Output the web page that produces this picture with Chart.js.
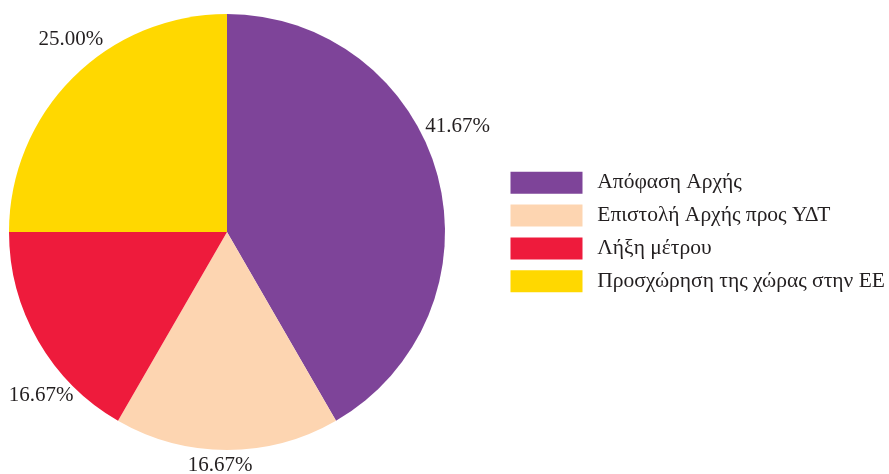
<!DOCTYPE html>
<html>
<head>
<meta charset="utf-8">
<script src="https://cdn.jsdelivr.net/npm/chart.js@4"></script>
<style>
  body { margin: 0; background: #fff; }
  #wrap { width: 889px; height: 474px; position: relative; }
</style>
</head>
<body>
<div id="wrap"><canvas id="pieChart"></canvas></div>
<script>
"use strict";

// data
var categories = ["Απόφαση Αρχής", "Επιστολή Αρχής προς ΥΔΤ", "Λήξη μέτρου", "Προσχώρηση της χώρας στην ΕΕ"];
var counts = [5, 2, 2, 3];
var sliceColors = ["#7E4499", "#FDD5B1", "#EE1B3C", "#FFD800"];

var serif = "'Liberation Serif', 'DejaVu Serif', serif";

// ------------------------------------------------------- //
// legend sits further right than Chart.js puts it
// ------------------------------------------------------ //
var legendSpacer = {
    id: "legendSpacer",
    beforeLayout: function (chart, args, opts) {
        var legend = chart.legend;
        if (legend && !legend._patched) {
            var origFit = legend.fit;
            legend.fit = function () {
                origFit.call(this);
                this.width = opts.width;
            };
            legend._patched = true;
        }
    },
    afterLayout: function (chart, args, opts) {
        chart.legend.left += opts.shift;
        chart.legend.right += opts.shift;
    }
};

// ------------------------------------------------------- //
// percentage labels outside the slices
// ------------------------------------------------------ //
var pctLabels = {
    id: "pctLabels",
    afterDatasetsDraw: function (chart, args, opts) {
        var ctx = chart.ctx;
        var meta = chart.getDatasetMeta(0);
        var total = counts.reduce(function (a, b) { return a + b; }, 0);
        ctx.save();
        ctx.font = opts.size + "px " + serif;
        ctx.fillStyle = opts.color;
        ctx.textAlign = "center";
        ctx.textBaseline = "middle";
        meta.data.forEach(function (arc, i) {
            var p = arc.getProps(["x", "y", "startAngle", "endAngle", "outerRadius"], true);
            var mid = (p.startAngle + p.endAngle) / 2;
            var nudge = opts.nudge[i];
            var px = p.x + Math.cos(mid) * p.outerRadius + nudge[0];
            var py = p.y + Math.sin(mid) * p.outerRadius + nudge[1];
            ctx.fillText((counts[i] / total * 100).toFixed(2) + "%", px, py);
        });
        ctx.restore();
    }
};

var PIECHART = document.getElementById("pieChart");
var myPieChart = new Chart(PIECHART, {
    type: "pie",
    data: {
        labels: categories,
        datasets: [
            {
                data: counts,
                backgroundColor: sliceColors,
                borderWidth: 0,
            },
        ],
    },
    options: {
        responsive: true,
        maintainAspectRatio: false,
        animation: false,
        layout: {
            padding: { left: 9, top: 14, bottom: 24, right: 0 },
        },
        plugins: {
            legend: {
                position: "right",
                labels: {
                    // white border trims the box to 72x22 and leaves a wider gap before the text
                    boxWidth: 80,
                    boxHeight: 30,
                    padding: 2.9,
                    color: "#231F20",
                    font: { family: serif, size: 21.5 },
                    generateLabels: function (chart) {
                        var items = Chart.overrides.pie.plugins.legend.labels.generateLabels(chart);
                        items.forEach(function (item) {
                            item.lineWidth = 8;
                            item.strokeStyle = "#fff";
                        });
                        return items;
                    },
                },
            },
            tooltip: { enabled: false },
            legendSpacer: { width: 444, shift: 58.6 },
            pctLabels: {
                size: 21,
                color: "#231F20",
                nudge: [[20, -49], [-7, 15], [3, 54], [-2, -38]],
            },
        },
    },
    plugins: [legendSpacer, pctLabels],
});
</script>
</body>
</html>
